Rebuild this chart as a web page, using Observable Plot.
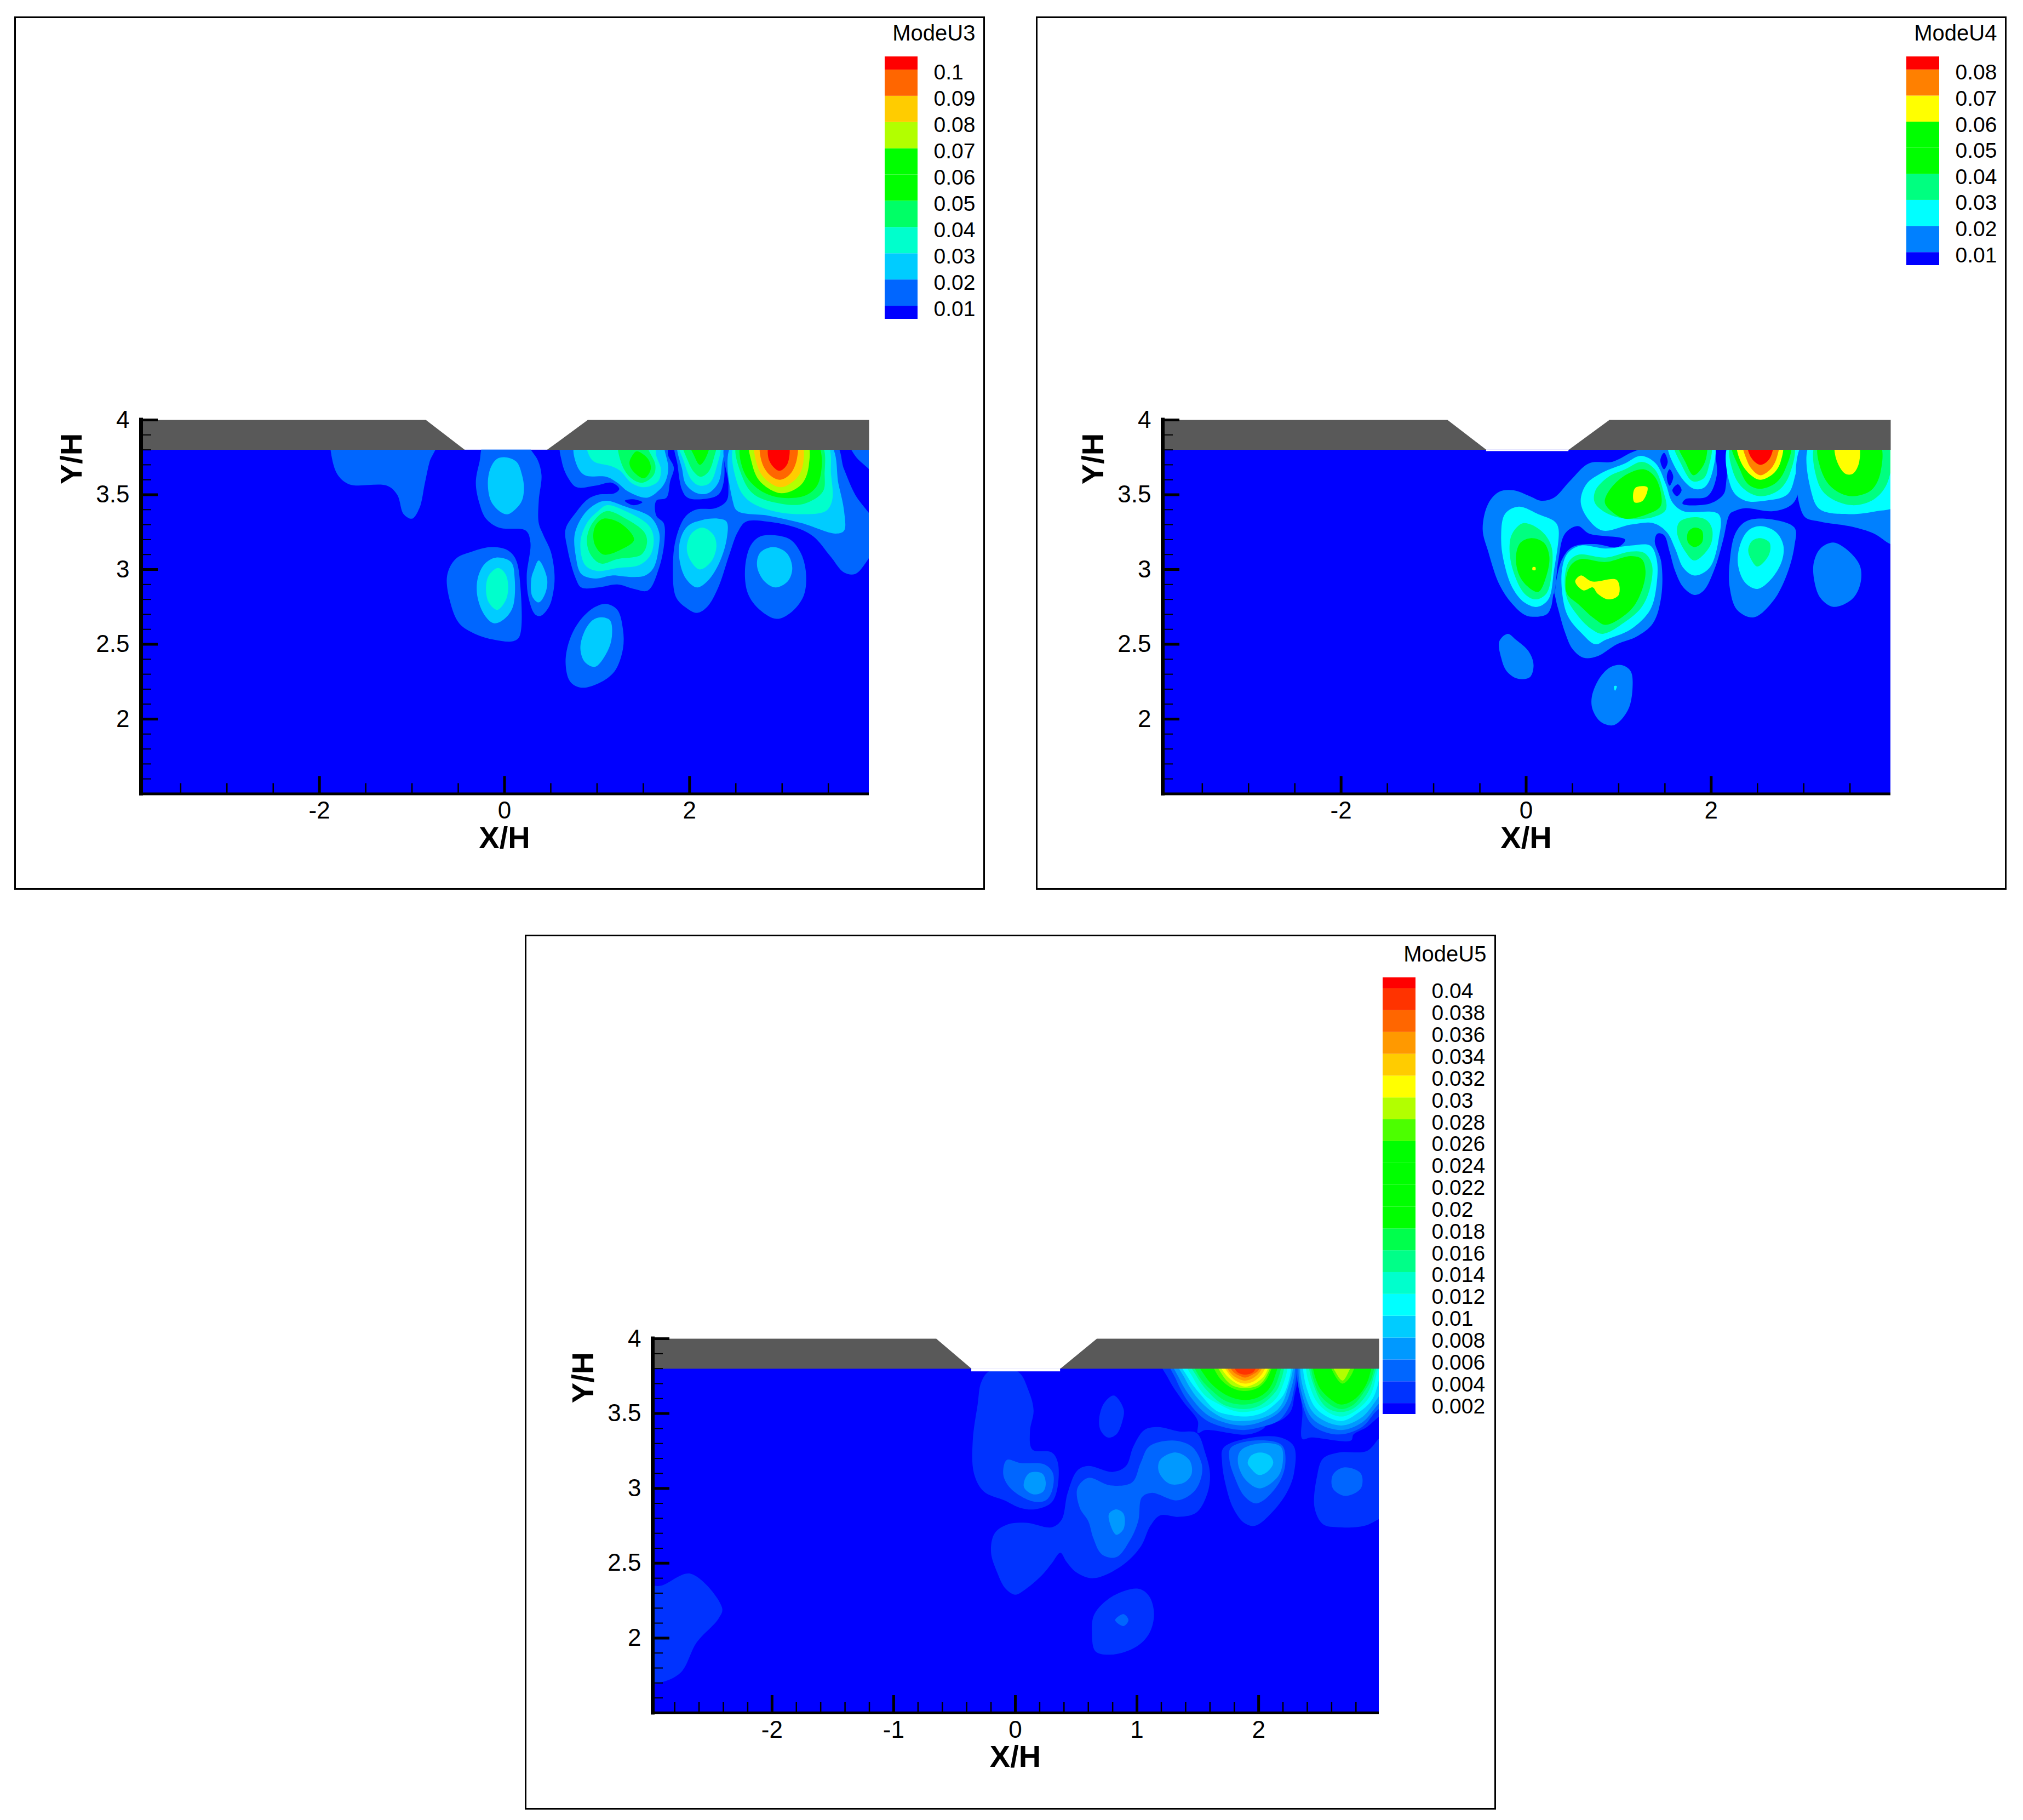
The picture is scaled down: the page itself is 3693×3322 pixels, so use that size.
<!DOCTYPE html>
<html><head><meta charset="utf-8">
<script src="https://cdn.jsdelivr.net/npm/d3@7"></script>
<script src="https://cdn.jsdelivr.net/npm/@observablehq/plot@0.6"></script>
<style>
html,body{margin:0;padding:0;background:#fff;width:3693px;height:3322px;overflow:hidden}
.box{position:absolute;box-sizing:border-box;border:3px solid #000}
.layer{position:absolute}
svg{display:block}
</style></head><body>
<script>
const u3Levels=[0.01,0.02,0.03,0.04,0.05,0.06,0.07,0.08,0.09,0.1];
const u3Colors=["#0000ff","#0066ff","#00ccff","#00ffcc","#00ff66","#00ff00","#00ff00","#b2ff00","#ffcc00","#ff6600","#ff0000"];
const u4Levels=[0.01,0.02,0.03,0.04,0.05,0.06,0.07,0.08];
const u4Colors=["#0000ff","#0080ff","#00ffff","#00ff80","#00ff00","#00ff00","#ffff00","#ff8000","#ff0000"];
const u5Levels=[0.002,0.004,0.006,0.008,0.01,0.012,0.014,0.016,0.018,0.02,0.022,0.024,0.026,0.028,0.03,0.032,0.034,0.036,0.038,0.04];
const u5Colors=["#0000ff","#0033ff","#0066ff","#0099ff","#00ccff","#00ffff","#00ffcc","#00ff88","#00ff4c","#00ff00","#00ff00","#00ff00","#00ff00","#4cff00","#b2ff00","#ffff00","#ffcc00","#ff9900","#ff6600","#ff3300","#ff0000"];
const yLabelTicks=[2,2.5,3,3.5,4];
const yMinorTicks=[1.6,1.7,1.8,1.9,2.1,2.2,2.3,2.4,2.6,2.7,2.8,2.9,3.1,3.2,3.3,3.4,3.6,3.7,3.8,3.9];
const u34XTicks=[-2,0,2];
const u34XMinor=[-3.5,-3,-2.5,-1.5,-1,-0.5,0.5,1,1.5,2.5,3,3.5];
const u5XTicks=[-2,-1,0,1,2];
const u5XMinor=[-2.8,-2.6,-2.4,-2.2,-1.8,-1.6,-1.4,-1.2,-0.8,-0.6,-0.4,-0.2,0.2,0.4,0.6,0.8,1.2,1.4,1.6,1.8,2.2,2.4,2.6,2.8];
const u34Wall=[-0.85,-0.43,0.46,0.90];
const u5Wall=[-0.65,-0.36,0.37,0.67];

// Contour regions: [band lower level, x,y pairs in X/H, Y/H]
const u3Contours=[
[0.01,[-1.88,3.85,-1.88,3.8,-1.81,3.64,-1.68,3.57,-1.27,3.56,-1.16,3.5,-1.09,3.37,-1,3.34,-0.92,3.41,-0.86,3.58,-0.81,3.72,-0.74,3.85]],
[0.01,[-0.21,3.85,-0.27,3.72,-0.31,3.58,-0.27,3.44,-0.2,3.34,-0.06,3.28,0.23,3.26,0.28,3.18,0.24,2.96,0.26,2.81,0.33,2.7,0.39,2.69,0.48,2.75,0.53,2.86,0.54,2.97,0.5,3.12,0.42,3.23,0.37,3.31,0.37,3.46,0.4,3.63,0.36,3.73,0.28,3.81,0.28,3.85]],
[0.02,[0.01,3.75,0.13,3.72,0.19,3.63,0.21,3.54,0.18,3.45,0.04,3.37,-0.03,3.38,-0.14,3.45,-0.18,3.57,-0.15,3.68,-0.08,3.74]],
[0.02,[0.37,3.06,0.46,2.94,0.44,2.84,0.37,2.78,0.3,2.82,0.29,2.94,0.32,3]],
[0.01,[-0.62,2.96,-0.59,2.79,-0.49,2.64,-0.32,2.57,-0.11,2.53,0.09,2.52,0.16,2.55,0.17,2.9,0.12,3.07,0.03,3.13,-0.14,3.15,-0.35,3.12,-0.53,3.07]],
[0.02,[-0.09,3.08,0.07,3.05,0.11,2.94,0.09,2.75,0,2.67,-0.11,2.64,-0.21,2.69,-0.29,2.81,-0.29,2.94,-0.21,3.04]],
[0.03,[-0.07,3.01,0.01,2.97,0.04,2.88,0.01,2.79,-0.08,2.73,-0.17,2.78,-0.2,2.87,-0.17,2.96]],
[0.01,[1.1,2.77,1.22,2.73,1.28,2.6,1.28,2.47,1.19,2.32,1.02,2.24,0.83,2.21,0.71,2.25,0.66,2.38,0.71,2.54,0.83,2.67,0.98,2.75]],
[0.02,[1.04,2.68,1.14,2.66,1.16,2.55,1.11,2.45,0.98,2.35,0.87,2.38,0.82,2.47,0.86,2.58,0.95,2.66]],
[0.01,[0.62,3.85,0.62,3.72,0.69,3.61,0.78,3.55,0.98,3.56,1.16,3.58,1.24,3.54,1.19,3.51,1.01,3.5,0.9,3.47,0.77,3.38,0.66,3.27,0.68,3.14,0.77,2.94,0.83,2.88,1.01,2.88,1.22,2.9,1.4,2.87,1.55,2.86,1.67,3.01,1.73,3.2,1.72,3.31,1.64,3.36,1.64,3.46,1.75,3.48,1.79,3.59,1.83,3.68,1.77,3.76,1.74,3.85]],
[0.005,[1.3,3.46,1.39,3.47,1.49,3.45,1.39,3.43]],
[0.02,[0.77,3.85,0.78,3.7,0.87,3.63,1.1,3.62,1.22,3.58,1.34,3.52,1.54,3.48,1.67,3.53,1.74,3.59,1.77,3.68,1.73,3.8,1.72,3.85]],
[0.03,[0.9,3.85,0.95,3.73,1.16,3.69,1.25,3.66,1.37,3.58,1.51,3.55,1.66,3.59,1.69,3.67,1.64,3.76,1.61,3.85]],
[0.04,[1.24,3.85,1.27,3.7,1.37,3.61,1.49,3.58,1.61,3.63,1.63,3.7,1.55,3.81,1.54,3.85]],
[0.05,[1.43,3.79,1.55,3.74,1.58,3.67,1.51,3.61,1.4,3.65,1.35,3.71,1.39,3.77]],
[0.02,[1.1,3.46,1.31,3.42,1.58,3.35,1.67,3.25,1.67,3.16,1.61,3.01,1.52,2.96,1.37,2.95,1.16,2.96,0.98,2.94,0.83,2.97,0.77,3.09,0.76,3.24,0.86,3.37,0.99,3.44]],
[0.03,[1.11,3.43,1.31,3.39,1.55,3.3,1.61,3.22,1.58,3.1,1.46,3.03,1.22,3.01,1,2.99,0.87,3.03,0.82,3.18,0.89,3.31,1.01,3.39]],
[0.04,[1.1,3.39,1.31,3.34,1.51,3.25,1.54,3.18,1.48,3.1,1.22,3.07,1.04,3.04,0.93,3.1,0.89,3.2,0.95,3.31]],
[0.05,[1.07,3.34,1.25,3.31,1.4,3.2,1.28,3.14,1.07,3.1,0.98,3.16,0.96,3.24,0.99,3.3]],
[0.01,[1.85,3.85,1.87,3.7,1.92,3.53,1.98,3.48,2.13,3.47,2.31,3.5,2.37,3.59,2.37,3.81,2.37,3.85]],
[0.02,[1.88,3.85,1.92,3.67,1.96,3.57,2.08,3.51,2.2,3.51,2.31,3.58,2.35,3.7,2.36,3.85]],
[0.03,[1.89,3.85,1.94,3.72,2.02,3.6,2.11,3.56,2.22,3.58,2.29,3.68,2.32,3.85]],
[0.04,[1.93,3.85,1.98,3.73,2.05,3.65,2.12,3.62,2.2,3.65,2.26,3.74,2.28,3.85]],
[0.05,[2,3.85,2.05,3.76,2.11,3.7,2.17,3.74,2.21,3.85]],
[0.01,[2.4,3.85,2.42,3.57,2.4,3.46,2.28,3.41,2.07,3.4,1.95,3.35,1.85,3.2,1.82,3.01,1.85,2.82,1.95,2.75,2.08,2.71,2.19,2.75,2.31,2.88,2.43,3.1,2.52,3.25,2.61,3.32,2.85,3.32,3.15,3.28,3.34,3.22,3.52,3.09,3.67,2.98,3.79,2.97,3.91,3.05,4,3.16,4,3.31,3.79,3.5,3.67,3.67,3.56,3.85]],
[0.01,[3.73,3.85,3.79,3.76,3.94,3.67,4.03,3.61,4.03,3.85]],
[0.02,[2.47,3.85,2.47,3.45,2.52,3.39,2.85,3.36,3.21,3.31,3.58,3.24,3.67,3.26,3.67,3.39,3.61,3.57,3.5,3.85]],
[0.03,[2.5,3.85,2.52,3.57,2.64,3.46,2.91,3.39,3.21,3.37,3.47,3.39,3.54,3.46,3.53,3.63,3.47,3.85]],
[0.04,[2.52,3.85,2.57,3.62,2.7,3.5,2.99,3.44,3.24,3.44,3.44,3.52,3.46,3.63,3.41,3.85]],
[0.05,[2.57,3.85,2.59,3.65,2.76,3.53,2.99,3.48,3.27,3.5,3.4,3.59,3.37,3.85]],
[0.07,[2.66,3.85,2.67,3.72,2.76,3.59,2.99,3.51,3.21,3.57,3.29,3.7,3.26,3.85]],
[0.08,[2.72,3.85,2.72,3.72,2.81,3.61,2.99,3.55,3.17,3.62,3.23,3.72,3.2,3.85]],
[0.09,[2.78,3.85,2.78,3.72,2.87,3.63,2.98,3.6,3.09,3.64,3.16,3.74,3.15,3.85]],
[0.1,[2.87,3.85,2.86,3.73,2.97,3.66,3.06,3.71,3.06,3.85]],
[0.02,[2.31,3.34,2.4,3.32,2.4,3.2,2.31,3.03,2.19,2.92,2.08,2.88,1.96,2.94,1.89,3.07,1.9,3.2,1.98,3.29,2.13,3.33]],
[0.03,[2.14,3.28,2.26,3.23,2.29,3.15,2.23,3.05,2.11,3,2.02,3.05,1.97,3.14,2.02,3.24]],
[0.01,[2.9,3.23,3.09,3.2,3.21,3.1,3.26,2.96,3.23,2.82,3.09,2.71,2.94,2.67,2.76,2.73,2.63,2.84,2.6,3.01,2.66,3.16,2.76,3.22]],
[0.02,[2.9,3.15,3.05,3.11,3.11,3.01,3.06,2.92,2.93,2.88,2.81,2.92,2.73,3.02,2.76,3.11]]
];
const u4Contours=[
[0.01,[-0.47,3.27,-0.41,3.44,-0.29,3.52,-0.14,3.53,0.04,3.49,0.16,3.46,0.3,3.48,0.47,3.59,0.68,3.71,0.93,3.72,1.13,3.78,1.25,3.81,1.37,3.85,2.16,3.85,2.96,3.85,2.96,3.57,2.88,3.44,2.67,3.39,2.37,3.41,2.25,3.39,2.2,3.37,2.13,3.2,2.04,3.01,1.92,2.86,1.82,2.83,1.7,2.88,1.61,2.99,1.55,3.12,1.49,3.23,1.42,3.24,1.39,3.19,1.46,3.05,1.46,2.82,1.37,2.64,1.19,2.55,0.98,2.5,0.77,2.42,0.62,2.41,0.5,2.47,0.42,2.58,0.34,2.75,0.3,2.84,0.27,2.75,0.22,2.7,0.01,2.69,-0.15,2.77,-0.29,2.9,-0.41,3.12]],
[0.005,[2.05,3.85,2.06,3.63,1.96,3.49,1.72,3.47,1.69,3.44,1.98,3.44,2.13,3.5,2.16,3.57,2.15,3.85]],
[0.005,[0.29,2.75,0.31,2.84,0.35,3.07,0.42,3.24,0.56,3.29,0.68,3.24,1.07,3.2,0.99,3.15,0.74,3.17,0.5,3.15,0.39,3.07,0.33,2.94]],
[0.005,[1.49,3.78,1.53,3.72,1.49,3.67,1.45,3.73]],
[0.005,[1.55,3.67,1.59,3.62,1.55,3.56,1.52,3.62]],
[0.005,[1.64,3.57,1.68,3.53,1.63,3.49,1.58,3.53]],
[0.02,[-0.08,3.42,0.13,3.37,0.31,3.32,0.35,3.27,0.3,2.99,0.24,2.8,0.12,2.75,-0.02,2.78,-0.15,2.88,-0.24,3.05,-0.27,3.2,-0.23,3.37]],
[0.03,[-0.03,3.31,0.16,3.26,0.27,3.16,0.28,3.01,0.22,2.84,0.1,2.8,-0.02,2.84,-0.14,2.99,-0.18,3.14,-0.15,3.24]],
[0.04,[0.06,3.21,0.19,3.18,0.25,3.09,0.22,2.96,0.13,2.85,0.01,2.89,-0.08,2.97,-0.11,3.09,-0.06,3.18]],
[0.06,[0.07,3.015,0.1,3.015,0.1,2.996,0.07,2.996]],
[0.02,[0.59,3.16,0.86,3.14,1.13,3.16,1.34,3.16,1.41,3.07,1.41,2.9,1.34,2.73,1.13,2.6,0.86,2.53,0.75,2.5,0.59,2.58,0.45,2.69,0.39,2.84,0.39,3.01,0.45,3.11]],
[0.03,[0.57,3.1,0.86,3.08,1.13,3.12,1.28,3.11,1.36,3.03,1.34,2.88,1.25,2.75,1.07,2.65,0.83,2.57,0.71,2.6,0.56,2.69,0.44,2.81,0.42,2.96,0.47,3.06]],
[0.04,[0.59,3.07,0.86,3.05,1.13,3.09,1.25,3.07,1.29,2.99,1.25,2.86,1.13,2.73,0.86,2.63,0.74,2.67,0.56,2.77,0.44,2.84,0.44,2.97,0.5,3.04]],
[0.06,[0.59,2.96,0.71,2.92,0.98,2.93,1,2.83,0.89,2.8,0.77,2.84,0.72,2.88,0.62,2.86,0.53,2.92]],
[0.02,[1.24,3.76,1.4,3.71,1.51,3.57,1.58,3.45,1.7,3.39,2.08,3.37,2.08,3.2,1.98,3.01,1.82,2.96,1.7,3.01,1.61,3.14,1.52,3.25,1.37,3.31,1.13,3.3,0.83,3.26,0.68,3.33,0.59,3.45,0.65,3.57,0.83,3.65,1.07,3.71]],
[0.03,[1.25,3.72,1.39,3.67,1.48,3.53,1.51,3.4,1.37,3.35,1.07,3.34,0.86,3.38,0.74,3.45,0.75,3.53,0.89,3.62,1.07,3.67]],
[0.04,[1.27,3.67,1.39,3.62,1.46,3.5,1.45,3.42,1.31,3.37,1.07,3.34,0.92,3.39,0.85,3.45,0.9,3.53,1.07,3.63]],
[0.06,[1.19,3.55,1.31,3.55,1.26,3.46,1.17,3.45,1.16,3.52]],
[0.03,[1.82,3.35,1.95,3.33,2.01,3.27,1.99,3.16,1.82,3.06,1.72,3.12,1.63,3.25,1.66,3.32]],
[0.04,[1.82,3.28,1.9,3.26,1.9,3.18,1.82,3.15,1.75,3.18,1.75,3.25]],
[0.02,[1.54,3.85,1.64,3.65,1.81,3.54,1.93,3.55,2.02,3.67,2.02,3.85]],
[0.03,[1.6,3.85,1.68,3.7,1.8,3.59,1.92,3.61,1.97,3.68,1.99,3.85]],
[0.04,[1.64,3.85,1.72,3.72,1.81,3.63,1.9,3.68,1.95,3.76,1.94,3.85]],
[0.02,[2.2,3.85,2.23,3.53,2.37,3.46,2.58,3.46,2.82,3.5,2.9,3.61,2.93,3.85]],
[0.03,[2.22,3.85,2.25,3.63,2.37,3.53,2.53,3.49,2.73,3.53,2.85,3.64,2.88,3.85]],
[0.04,[2.23,3.85,2.31,3.67,2.4,3.57,2.53,3.54,2.7,3.58,2.8,3.67,2.85,3.85]],
[0.06,[2.29,3.85,2.32,3.72,2.43,3.63,2.53,3.6,2.67,3.64,2.75,3.72,2.76,3.85]],
[0.07,[2.35,3.85,2.38,3.74,2.44,3.67,2.53,3.63,2.64,3.67,2.71,3.75,2.72,3.85]],
[0.08,[2.4,3.85,2.43,3.75,2.53,3.7,2.63,3.74,2.66,3.85]],
[0.01,[3,3.85,3,3.36,3.18,3.32,3.49,3.29,3.76,3.24,3.94,3.17,4.03,3.17,4.03,3.85]],
[0.02,[3.08,3.85,3.09,3.5,3.18,3.4,3.49,3.37,3.79,3.39,4,3.43,4,3.85]],
[0.03,[3.14,3.85,3.15,3.59,3.26,3.49,3.52,3.43,3.76,3.47,3.91,3.59,3.92,3.85]],
[0.04,[3.17,3.85,3.21,3.63,3.34,3.53,3.52,3.49,3.73,3.53,3.83,3.65,3.81,3.85]],
[0.06,[3.35,3.85,3.35,3.74,3.45,3.64,3.53,3.64,3.6,3.72,3.58,3.85]],
[0.01,[2.58,3.34,2.9,3.28,2.9,3.16,2.82,2.97,2.67,2.79,2.46,2.68,2.28,2.73,2.2,2.88,2.2,3.05,2.26,3.24,2.37,3.32]],
[0.02,[2.53,3.29,2.7,3.25,2.78,3.16,2.76,3.05,2.64,2.93,2.5,2.87,2.37,2.91,2.29,3.03,2.31,3.16,2.4,3.26]],
[0.03,[2.53,3.21,2.63,3.18,2.625,3.1,2.5,3.02,2.43,3.07,2.4,3.13,2.44,3.19]],
[0.01,[3.32,3.18,3.49,3.12,3.61,3.02,3.61,2.9,3.52,2.8,3.32,2.75,3.18,2.81,3.11,2.94,3.11,3.05,3.18,3.14]],
[0.01,[-0.2,2.57,-0.11,2.53,0.03,2.45,0.08,2.36,0.04,2.28,-0.09,2.27,-0.21,2.32,-0.27,2.41,-0.29,2.52]],
[0.01,[1.04,2.36,1.13,2.32,1.15,2.21,1.1,2.06,0.95,1.96,0.81,1.98,0.72,2.06,0.71,2.15,0.8,2.28,0.92,2.35]],
[0.02,[0.95,2.22,0.98,2.22,0.96,2.19]]
];
const u5Contours=[
[0.002,[-0.21,3.785,-0.28,3.71,-0.31,3.56,-0.35,3.32,-0.34,3.1,-0.26,2.98,-0.09,2.92,0.04,2.87,0.16,2.86,0.29,2.9,0.34,2.98,0.35,3.17,0.3,3.24,0.14,3.26,0.12,3.38,0.15,3.52,0.11,3.65,0.02,3.78]],
[0.004,[-0.07,3.19,0.04,3.17,0.24,3.16,0.31,3.1,0.3,2.98,0.25,2.92,0.16,2.91,0.04,2.95,-0.06,3.02,-0.1,3.1]],
[0.006,[0.11,3.1,0.22,3.1,0.25,3.04,0.23,2.98,0.15,2.96,0.07,3.01]],
[0.002,[0.81,3.62,0.89,3.53,0.88,3.45,0.83,3.36,0.76,3.34,0.7,3.39,0.69,3.47,0.73,3.57]],
[0.002,[-0.2,2.575,-0.17,2.7,-0.06,2.76,0.09,2.77,0.3,2.74,0.38,2.79,0.43,2.97,0.51,3.12,0.6,3.15,0.8,3.11,0.91,3.15,0.97,3.28,1.06,3.39,1.17,3.41,1.35,3.38,1.49,3.37,1.56,3.24,1.6,3.1,1.58,2.97,1.49,2.84,1.35,2.81,1.19,2.82,1.11,2.75,1.03,2.61,0.87,2.48,0.64,2.4,0.5,2.44,0.42,2.51,0.37,2.57,0.3,2.5,0.23,2.43,0.09,2.33,0,2.29,-0.08,2.33,-0.15,2.44]],
[0.004,[0.6,3.07,0.78,3.02,0.96,3.04,1.03,3.17,1.1,3.28,1.29,3.32,1.45,3.28,1.53,3.17,1.53,3.08,1.47,2.98,1.33,2.92,1.12,2.97,1.04,2.94,1.01,2.78,0.94,2.65,0.83,2.54,0.71,2.56,0.64,2.67,0.6,2.78,0.53,2.87,0.51,3]],
[0.006,[1.32,3.24,1.43,3.19,1.45,3.1,1.39,3.04,1.27,3.03,1.18,3.11,1.19,3.19]],
[0.006,[0.83,2.86,0.89,2.83,0.89,2.73,0.83,2.69,0.78,2.76,0.77,2.83]],
[0.002,[1.01,2.33,1.1,2.28,1.14,2.16,1.1,2.03,0.99,1.94,0.8,1.89,0.66,1.91,0.63,2.03,0.65,2.16,0.8,2.28]],
[0.004,[0.89,2.16,0.93,2.12,0.89,2.08,0.82,2.12]],
[0.002,[-2.99,2.35,-2.91,2.35,-2.67,2.43,-2.41,2.2,-2.44,2.13,-2.62,1.97,-2.75,1.77,-2.93,1.7,-3.08,1.7,-3.08,2.35]],
[0.002,[1.71,3.27,1.95,3.34,2.18,3.34,2.29,3.28,2.29,3.1,2.23,2.97,2.11,2.84,1.97,2.75,1.88,2.77,1.79,2.87,1.73,3.02,1.7,3.17]],
[0.004,[1.77,3.27,1.97,3.32,2.19,3.29,2.22,3.17,2.17,3.04,2.04,2.92,1.97,2.9,1.88,2.95,1.8,3.08,1.76,3.19]],
[0.006,[2,3.3,2.18,3.28,2.2,3.19,2.16,3.08,2.01,3,1.89,3.06,1.83,3.17,1.85,3.25]],
[0.008,[2.01,3.24,2.09,3.22,2.12,3.17,2.07,3.11,2,3.09,1.93,3.14,1.91,3.17,1.94,3.22]],
[0.002,[3,3.34,2.89,3.25,2.66,3.24,2.53,3.2,2.48,3.08,2.46,2.87,2.53,2.76,2.66,2.74,2.87,2.75,3,2.8,3.06,2.82,3.06,3.36]],
[0.004,[2.7,3.14,2.84,3.1,2.84,3,2.71,2.95,2.61,3,2.61,3.09]],
[0.002,[1.19,3.88,1.26,3.73,1.38,3.58,1.5,3.45,1.5,3.37,1.56,3.39,1.91,3.36,2.04,3.4,2.08,3.44,2.17,3.45,2.26,3.51,2.29,3.6,2.3,3.88]],
[0.004,[1.26,3.88,1.32,3.73,1.42,3.58,1.56,3.46,1.71,3.41,1.88,3.39,2.02,3.41,2.16,3.45,2.24,3.53,2.28,3.62,2.28,3.88]],
[0.006,[1.29,3.88,1.35,3.73,1.46,3.59,1.58,3.49,1.72,3.44,1.88,3.42,2.04,3.45,2.17,3.51,2.25,3.62,2.27,3.88]],
[0.008,[1.32,3.88,1.39,3.74,1.49,3.61,1.62,3.51,1.74,3.46,1.88,3.45,2.03,3.47,2.16,3.53,2.23,3.64,2.26,3.88]],
[0.01,[1.35,3.88,1.42,3.74,1.53,3.62,1.65,3.52,1.77,3.49,1.88,3.48,2.02,3.5,2.13,3.56,2.22,3.65,2.24,3.88]],
[0.012,[1.39,3.88,1.46,3.74,1.56,3.62,1.68,3.56,1.79,3.52,1.88,3.51,2.01,3.53,2.12,3.58,2.19,3.67,2.22,3.88]],
[0.014,[1.42,3.88,1.49,3.75,1.58,3.65,1.71,3.56,1.88,3.53,2,3.55,2.1,3.61,2.17,3.69,2.19,3.88]],
[0.016,[1.46,3.88,1.51,3.75,1.62,3.65,1.74,3.58,1.88,3.56,2,3.58,2.09,3.63,2.15,3.71,2.17,3.88]],
[0.018,[1.49,3.88,1.56,3.75,1.65,3.67,1.77,3.61,1.89,3.59,2,3.61,2.08,3.66,2.13,3.74,2.15,3.88]],
[0.026,[1.62,3.88,1.66,3.76,1.76,3.68,1.89,3.65,2.01,3.68,2.08,3.75,2.11,3.88]],
[0.028,[1.64,3.88,1.7,3.76,1.78,3.69,1.89,3.67,2,3.69,2.07,3.76,2.1,3.88]],
[0.03,[1.66,3.88,1.72,3.77,1.8,3.71,1.89,3.68,1.99,3.71,2.06,3.77,2.08,3.88]],
[0.032,[1.69,3.88,1.75,3.77,1.81,3.72,1.89,3.7,1.97,3.72,2.04,3.78,2.07,3.88]],
[0.034,[1.71,3.88,1.77,3.77,1.84,3.73,1.89,3.72,1.96,3.74,2.02,3.79,2.04,3.88]],
[0.036,[1.74,3.88,1.79,3.78,1.85,3.75,1.89,3.74,1.95,3.76,2,3.79,2.02,3.88]],
[0.038,[1.79,3.88,1.82,3.78,1.89,3.76,1.96,3.78,1.99,3.88]],
[0.002,[2.35,3.88,2.36,3.51,2.36,3.33,2.43,3.34,2.76,3.32,2.78,3.36,2.89,3.41,2.99,3.48,3.06,3.52,3.06,3.88]],
[0.004,[2.35,3.88,2.38,3.51,2.46,3.41,2.66,3.36,2.85,3.41,2.96,3.51,3.06,3.59,3.06,3.88]],
[0.006,[2.36,3.88,2.39,3.54,2.48,3.44,2.68,3.39,2.85,3.44,2.96,3.54,3.06,3.65,3.06,3.88]],
[0.008,[2.37,3.88,2.41,3.56,2.5,3.47,2.68,3.42,2.84,3.47,2.95,3.57,3.06,3.73,3.06,3.88]],
[0.01,[2.39,3.88,2.43,3.59,2.52,3.5,2.68,3.45,2.81,3.5,2.93,3.59,2.99,3.73,3,3.88]],
[0.012,[2.41,3.88,2.45,3.62,2.55,3.52,2.68,3.48,2.8,3.52,2.91,3.61,2.96,3.73,2.97,3.88]],
[0.014,[2.43,3.88,2.47,3.65,2.56,3.54,2.68,3.51,2.79,3.54,2.89,3.63,2.94,3.73,2.96,3.88]],
[0.016,[2.45,3.88,2.48,3.66,2.57,3.57,2.68,3.53,2.78,3.56,2.87,3.65,2.93,3.74,2.94,3.88]],
[0.018,[2.46,3.88,2.49,3.69,2.6,3.59,2.68,3.56,2.78,3.59,2.86,3.66,2.91,3.75,2.92,3.88]],
[0.026,[2.58,3.88,2.61,3.78,2.69,3.7,2.77,3.77,2.79,3.88]],
[0.028,[2.59,3.88,2.63,3.78,2.69,3.72,2.74,3.78,2.78,3.88]]
];

const FONT='"Liberation Sans", Arial, sans-serif';
function pairs(flat){const r=[];for(let i=0;i<flat.length;i+=2)r.push([flat[i],flat[i+1]]);return r;}
function layer(left,top,node){const d=document.createElement("div");d.className="layer";d.style.left=left+"px";d.style.top=top+"px";d.appendChild(node);document.body.appendChild(d);}

function panel(o){
  const color={type:"threshold",domain:o.levels,range:o.colors};
  const [xa,xb]=o.xDomain, pxX=(o.plotRight-o.plotLeft)/(xb-xa), pxY=(o.plotBottom-o.plotTop)/2.5;
  const marks=[
    Plot.rect([0],{x1:xa,x2:xb,y1:1.5,y2:3.8,fill:()=>o.blue}),
    ...o.contours.map(([lv,flat])=>Plot.line(pairs(flat),{x:d=>d[0],y:d=>d[1],fill:()=>lv,stroke:null,curve:"catmull-rom-closed",clip:"frame"})),
    Plot.rect([0],{x1:xa,x2:xb,y1:3.8,y2:4,fill:"white"}),
    Plot.rect([0],{x1:o.wall[1],x2:o.wall[2],y1:o.notchY,y2:3.8,fill:"white"}),
    Plot.line(pairs([xa,3.8,xa,4,o.wall[0],4,o.wall[1],3.8]),{x:d=>d[0],y:d=>d[1],fill:"#595959",stroke:null,curve:"linear-closed"}),
    Plot.line(pairs([o.wall[2],3.8,o.wall[3],4,xb,4,xb,3.8]),{x:d=>d[0],y:d=>d[1],fill:"#595959",stroke:null,curve:"linear-closed"}),
    Plot.ruleY(yMinorTicks,{x1:xa,x2:xa+21/pxX,stroke:"#000",strokeWidth:2}),
    Plot.ruleY(yLabelTicks,{x1:xa,x2:xa+33/pxX,stroke:"#000",strokeWidth:5}),
    Plot.ruleX(o.xMinor,{y1:1.5,y2:1.5+19/pxY,stroke:"#000",strokeWidth:2.5}),
    Plot.ruleX(o.xTicks,{y1:1.5,y2:1.5+32/pxY,stroke:"#000",strokeWidth:5}),
    Plot.ruleX([xa],{y1:1.5,y2:4,stroke:"#000",strokeWidth:7,dx:2,strokeLinecap:"square"}),
    Plot.ruleY([1.5],{x1:xa,x2:xb,stroke:"#000",strokeWidth:5}),
    Plot.axisX(o.xTicks,{anchor:"bottom",tickSize:0,tickPadding:14,fontSize:44,label:null,tickFormat:d=>String(d)}),
    Plot.axisY(yLabelTicks,{anchor:"left",tickSize:0,tickPadding:19,fontSize:44,label:null,tickFormat:d=>String(d)}),
    Plot.text(["X/H"],{frameAnchor:"bottom",lineAnchor:"middle",dy:81,fontSize:56,fontWeight:"bold",fill:"#000"}),
    Plot.text(["Y/H"],{y:3.74,frameAnchor:"left",textAnchor:"middle",dx:-124,rotate:-90,fontSize:56,fontWeight:"bold",fill:"#000"})
  ];
  const chart=Plot.plot({
    width:o.boxW,height:o.boxH,
    marginLeft:o.plotLeft-o.boxX,marginRight:o.boxX+o.boxW-o.plotRight,
    marginTop:o.plotTop-o.boxY,marginBottom:o.boxY+o.boxH-o.plotBottom,
    style:{background:"transparent",fontFamily:FONT,color:"#000"},
    x:{domain:o.xDomain,axis:null},y:{domain:[1.5,4],axis:null},color,marks
  });
  layer(o.boxX,o.boxY,chart);

  // contour legend: bands stacked on a value scale
  const lv=[o.legendMin,...o.levels,o.legendMax];
  const bands=d3.pairs(lv).map(([lo,hi])=>({lo,hi}));
  const LM=5,LT=70,LW=60;
  const legendW=o.legendRight-o.legendX+LM+10;
  const legend=Plot.plot({
    width:legendW,height:o.legendH+LT+20,
    marginLeft:LM,marginRight:legendW-LM-LW,marginTop:LT,marginBottom:20,
    style:{background:"transparent",fontFamily:FONT,color:"#000"},
    x:{domain:[0,1],axis:null},y:{domain:[o.legendMin,o.legendMax],axis:null},color,
    marks:[
      Plot.rect(bands,{x1:0,x2:1,y1:"lo",y2:"hi",fill:"lo"}),
      Plot.text(o.levels,{x:1,y:d=>d,text:d=>String(d),dx:29,dy:5.5,textAnchor:"start",fontSize:39,fill:"#000"}),
      Plot.text([o.title],{x:1,y:o.legendMax,dx:o.legendRight-o.legendX-LW,dy:-42,textAnchor:"end",fontSize:40,fill:"#000"})
    ]
  });
  layer(o.legendX-LM,o.legendY-LT,legend);

  const b=document.createElement("div");b.className="box";
  b.style.cssText=`left:${o.boxX}px;top:${o.boxY}px;width:${o.boxW}px;height:${o.boxH}px`;
  document.body.appendChild(b);
}

panel({title:"ModeU3",levels:u3Levels,colors:u3Colors,contours:u3Contours,blue:0.005,notchY:3.8,wall:u34Wall,
  xDomain:[-3.94,3.94],xTicks:u34XTicks,xMinor:u34XMinor,
  boxX:26,boxY:30,boxW:1772,boxH:1594,plotLeft:255,plotRight:1586,plotTop:766,plotBottom:1448.5,
  legendX:1615,legendY:103,legendH:479,legendRight:1780,legendMin:0.005,legendMax:0.105});
panel({title:"ModeU4",levels:u4Levels,colors:u4Colors,contours:u4Contours,blue:0.005,notchY:3.79,wall:u34Wall,
  xDomain:[-3.94,3.94],xTicks:u34XTicks,xMinor:u34XMinor,
  boxX:1891,boxY:30,boxW:1772,boxH:1594,plotLeft:2120,plotRight:3451,plotTop:766,plotBottom:1448.5,
  legendX:3480,legendY:103,legendH:381,legendRight:3645,legendMin:0.005,legendMax:0.085});
panel({title:"ModeU5",levels:u5Levels,colors:u5Colors,contours:u5Contours,blue:0.001,notchY:3.78,wall:u5Wall,
  xDomain:[-2.99,2.99],xTicks:u5XTicks,xMinor:u5XMinor,
  boxX:958,boxY:1706,boxW:1773,boxH:1597,plotLeft:1189,plotRight:2517,plotTop:2443,plotBottom:3126,
  legendX:2524,legendY:1784,legendH:797,legendRight:2713,legendMin:0.001,legendMax:0.041});
</script>
</body></html>
